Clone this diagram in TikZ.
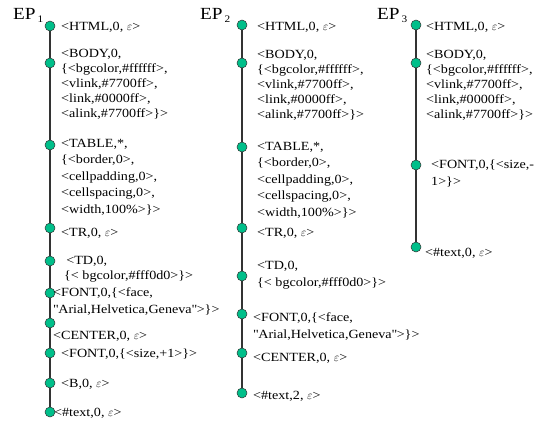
\documentclass[tikz,border=0pt]{standalone}
\usepackage{fontspec}
\setmainfont[FakeStretch=1.13]{Liberation Serif}
\usepackage{tikz}
\usetikzlibrary{positioning, backgrounds}
\definecolor{knot}{HTML}{00BF8A}
\definecolor{stemgray}{HTML}{333333}
\newcommand{\noattr}{$\varepsilon$}
\newcommand{\epsub}[1]{EP\kern2pt\raisebox{-3.5pt}{\fontsize{10}{10}\selectfont #1}}
\tikzset{
  dot/.style   = {circle, draw=black!80, line width=0.5pt, fill=knot,
                  minimum size=10pt, inner sep=0pt},
  stem/.style  = {draw=stemgray, line width=1.1pt},
  tag/.style   = {anchor=north west, yshift=10pt, inner sep=0pt, align=left,
                  font=\fontsize{12.5}{#1}\selectfont,
                  execute at begin node={\rule{0pt}{10pt}}},
  tag/.default = 15,
  ep/.style    = {anchor=base west, inner sep=0pt, font=\fontsize{17}{20}\selectfont},
}

\begin{document}
\begin{tikzpicture}[x=1pt, y=-1pt]
  \useasboundingbox (0,0) rectangle (538,421);

  \node[ep] (ep1) at (13,19)  {\epsub{1}};
  \node[ep] (ep2) at (200,19) {\epsub{2}};
  \node[ep] (ep3) at (377,19) {\epsub{3}};

  % first path
  \node[dot] (a1)  at (50,26)  {};
  \node[dot] (a2)  at (50,63)  {};
  \node[dot] (a3)  at (50,145) {};
  \node[dot] (a4)  at (50,228) {};
  \node[dot] (a5)  at (50,261) {};
  \node[dot] (a6)  at (50,293) {};
  \node[dot] (a7)  at (50,323) {};
  \node[dot] (a8)  at (50,353) {};
  \node[dot] (a9)  at (50,383) {};
  \node[dot] (a10) at (50,412) {};

  \node[tag] (ta1) at (61,30) {<HTML,0, \noattr>};
  \node[tag] (ta2) at (61,59) {<BODY,0,\\\{<bgcolor,\#ffffff>,\\<vlink,\#7700ff>,\\<link,\#0000ff>,\\<alink,\#7700ff>\}>};
  \node[tag=16.5] (ta3) at (61,149) {<TABLE,*,\\\{<border,0>,\\<cellpadding,0>,\\<cellspacing,0>,\\<width,100\%>\}>};
  \node[tag] (ta4) at (61,236) {<TR,0, \noattr>};
  \node[tag] (ta5) at (64,266) {\,<TD,0,\\\{< bgcolor,\#fff0d0>\}>};
  \node[tag=17] (ta6) at (53,297) {<FONT,0,\{<face,\\\textquotedbl Arial,Helvetica,Geneva\textquotedbl>\}>};
  \node[tag] (ta7) at (53,339) {<CENTER,0, \noattr>};
  \node[tag] (ta8) at (61,357) {<FONT,0,\{<size,+1>\}>};
  \node[tag] (ta9) at (61,387) {<B,0, \noattr>};
  \node[tag] (ta10) at (54,416) {<\#text,0, \noattr>};

  % second path
  \node[dot] (b1) at (242,25)  {};
  \node[dot] (b2) at (242,63)  {};
  \node[dot] (b3) at (242,147) {};
  \node[dot] (b4) at (242,228) {};
  \node[dot] (b5) at (242,276) {};
  \node[dot] (b6) at (242,314) {};
  \node[dot] (b7) at (242,353) {};
  \node[dot] (b8) at (242,393) {};

  \node[tag] (tb1) at (257,30) {<HTML,0, \noattr>};
  \node[tag] (tb2) at (257,60) {<BODY,0,\\\{<bgcolor,\#ffffff>,\\<vlink,\#7700ff>,\\<link,\#0000ff>,\\<alink,\#7700ff>\}>};
  \node[tag=16.5] (tb3) at (257,152) {<TABLE,*,\\\{<border,0>,\\<cellpadding,0>,\\<cellspacing,0>,\\<width,100\%>\}>};
  \node[tag] (tb4) at (257,236) {<TR,0, \noattr>};
  \node[tag=16.5] (tb5) at (257,271) {<TD,0,\\\{< bgcolor,\#fff0d0>\}>};
  \node[tag=17.5] (tb6) at (253,322) {<FONT,0,\{<face,\\\textquotedbl Arial,Helvetica,Geneva\textquotedbl>\}>};
  \node[tag] (tb7) at (253,361) {<CENTER,0, \noattr>};
  \node[tag] (tb8) at (253,399) {<\#text,2, \noattr>};

  % third path
  \node[dot] (c1) at (416,25)  {};
  \node[dot] (c2) at (416,63)  {};
  \node[dot] (c3) at (416,165) {};
  \node[dot] (c4) at (416,247) {};

  \node[tag] (tc1) at (426,30) {<HTML,0, \noattr>};
  \node[tag] (tc2) at (426,60) {<BODY,0,\\\{<bgcolor,\#ffffff>,\\<vlink,\#7700ff>,\\<link,\#0000ff>,\\<alink,\#7700ff>\}>};
  \node[tag=16.5] (tc3) at (431,170) {<FONT,0,\{<size,-\\1>\}>};
  \node[tag] (tc4) at (425,256) {<\#text,0, \noattr>};

  \begin{scope}[on background layer]
    \draw[stem] (a1.center) -- (a10.center);
    \draw[stem] (b1.center) -- (b8.center);
    \draw[stem] (c1.center) -- (c4.center);
  \end{scope}

\end{tikzpicture}
\end{document}
